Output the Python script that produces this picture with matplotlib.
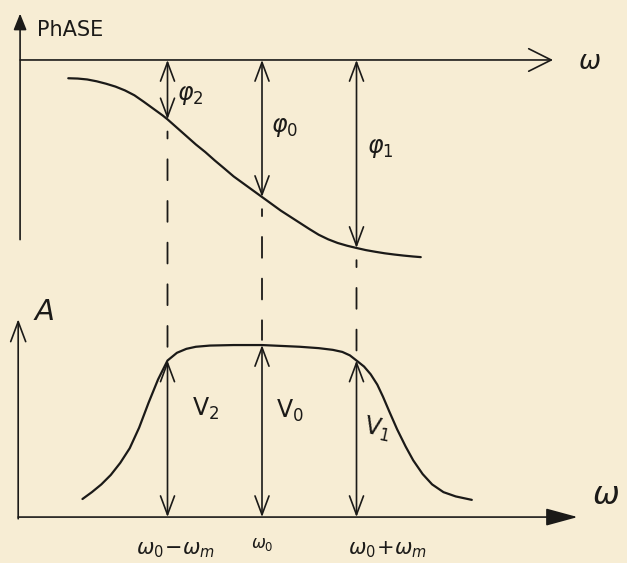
import matplotlib
matplotlib.use("Agg")
import matplotlib.pyplot as plt
from matplotlib.patches import ConnectionPatch

# Frequency axis is normalised: u = (w - w0) / wm
phase_freq = [-2.05, -1.95, -1.85, -1.75, -1.65, -1.55, -1.45, -1.35, -1.25,
              -1.15, -1.05, -1.00, -0.90, -0.80, -0.70, -0.60, -0.50, -0.40,
              -0.30, -0.20, -0.10, 0.00, 0.10, 0.20, 0.30, 0.40, 0.50, 0.60,
              0.70, 0.80, 0.90, 1.00, 1.10, 1.20, 1.30, 1.40, 1.50, 1.60, 1.68]
phase_deg = [-12.0, -12.2, -12.8, -14.0, -15.6, -17.5, -20.0, -23.2, -27.5,
             -32.0, -36.5, -39.0, -44.5, -50.0, -55.5, -60.5, -66.0, -71.2,
             -76.5, -81.0, -85.5, -90.0, -94.5, -99.0, -103.0, -107.0, -111.0, -114.8,
             -117.8, -120.2, -122.0, -123.5, -124.9, -126.0, -127.0, -127.8, -128.5, -129.1, -129.5]

amp_freq = [-1.90, -1.80, -1.70, -1.60, -1.50, -1.40, -1.30, -1.20, -1.10, -1.00,
            -0.90, -0.80, -0.70, -0.55, -0.30, 0.00, 0.20, 0.40, 0.60, 0.75,
            0.85, 0.93, 1.00, 1.08, 1.15, 1.22, 1.28, 1.35, 1.43, 1.52,
            1.60, 1.70, 1.80, 1.92, 2.05, 2.22]
amp_val = [0.105, 0.145, 0.19, 0.245, 0.315, 0.40, 0.52, 0.665, 0.80, 0.91,
           0.955, 0.978, 0.99, 0.997, 1.00, 1.00, 0.995, 0.99, 0.982, 0.972,
           0.96, 0.94, 0.91, 0.875, 0.83, 0.77, 0.70, 0.61, 0.51, 0.41,
           0.33, 0.25, 0.19, 0.145, 0.12, 0.10]

# Spectral lines: w0 - wm, w0, w0 + wm
marker_freq = [-1.0, 0.0, 1.0]
marker_phase = [-39.0, -90.0, -123.5]
marker_amp = [0.91, 1.00, 0.91]

phase_labels = [r'$\varphi_2$', r'$\varphi_0$', r'$\varphi_1$']
amp_labels = [r'$\mathrm{V}_2$', r'$\mathrm{V}_0$', r'$\mathrm{V}_1$']
tick_labels = [r'$\omega_0\!-\!\omega_m$', r'$\omega_0$', r'$\omega_0\!+\!\omega_m$']

INK = '#1b1a18'
PAPER = '#f7edd4'

plt.rcParams['lines.scale_dashes'] = False
plt.rcParams['mathtext.fontset'] = 'dejavusans'

fig = plt.figure(figsize=(6.27, 5.63), dpi=100, facecolor=PAPER)
top = fig.add_axes([0, 0.4849, 1, 0.5151])
bot = fig.add_axes([0, 0, 1, 0.4849])
for ax in (top, bot):
    ax.set_xlim(-2.7725, 3.8624)
    ax.axis('off')
    ax.patch.set_alpha(0)
top.set_ylim(-151.1, 39.4)
bot.set_ylim(-0.267, 1.320)


def arrow(ax, tail, tip, style, width=1.2, hl=0.7, hw=0.3, scale=18):
    ax.annotate('', xy=tip, xytext=tail,
                arrowprops=dict(arrowstyle=f'{style},head_length={hl},head_width={hw}',
                                mutation_scale=scale, color=INK, lw=width,
                                shrinkA=0, shrinkB=0, fc=INK),
                annotation_clip=False)


# ---- phase panel ----
arrow(top, (-2.56, -118.0), (-2.56, 30.5), '-|>', hl=0.55, hw=0.22)
arrow(top, (-2.56, 0.0), (3.08, 0.0), '->', hl=0.9, hw=0.45)
top.plot(phase_freq, phase_deg, color=INK, lw=1.6, solid_capstyle='round',
         solid_joinstyle='round')

for u, p, lab, (lx, ly) in zip(marker_freq, marker_phase, phase_labels,
                              [(-0.76, -23), (0.24, -44), (1.25, -58)]):
    arrow(top, (u, 0.0), (u, p), '<->', hl=0.75, hw=0.28)
    top.text(lx, ly, lab, fontsize=17, color=INK, ha='center', va='center')

top.text(-2.38, 19.7, 'PhASE', fontsize=15, color=INK, ha='left', va='center')
top.text(3.47, -1.0, r'$\omega$', fontsize=19, color=INK, ha='center', va='center')

# ---- amplitude panel ----
arrow(bot, (-2.58, -0.01), (-2.58, 1.15), '->', hl=0.8, hw=0.3)
arrow(bot, (-2.58, 0.0), (3.34, 0.0), '-|>', hl=1.1, hw=0.3)
bot.plot(amp_freq, amp_val, color=INK, lw=1.6, solid_capstyle='round',
         solid_joinstyle='round')

for i, (u, a, lab, (lx, ly, rot)) in enumerate(zip(
        marker_freq, marker_amp, amp_labels,
        [(-0.60, 0.63, 0), (0.30, 0.62, 0), (1.22, 0.51, -12)])):
    arrow(bot, (u, 0.0), (u, a), '<->', hl=0.75, hw=0.28)
    bot.text(lx, ly, lab, fontsize=17, color=INK, ha='center', va='center', rotation=rot)

    # dashed guide joining the two curves
    con = ConnectionPatch(xyA=(u, marker_phase[i] - 8), coordsA=top.transData,
                          xyB=(u, a + 0.03), coordsB=bot.transData,
                          color=INK, lw=1.3, linestyle=(10, (15, 15)))
    fig.add_artist(con)

bot.text(-2.30, 1.19, 'A', fontsize=21, color=INK, style='italic', ha='center', va='center')
bot.text(3.64, 0.125, r'$\omega$', fontsize=23, color=INK, ha='center', va='center')

for u, lab, ly, fs in zip([-0.92, 0.0, 1.33], tick_labels, [-0.19, -0.155, -0.19], [15, 12, 15]):
    bot.text(u, ly, lab, fontsize=fs, color=INK, ha='center', va='center')

fig.savefig('out.png', dpi=100, facecolor=PAPER)
